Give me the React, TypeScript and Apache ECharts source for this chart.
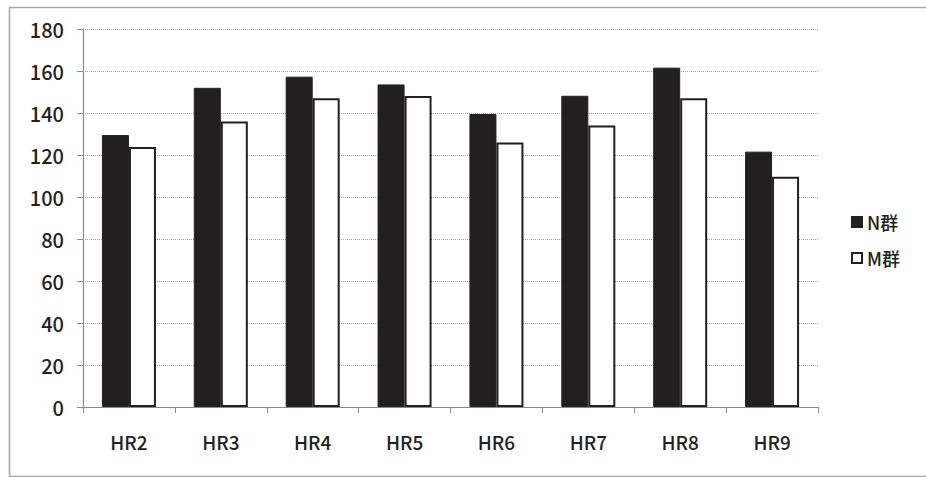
import React, { useEffect, useRef } from "react";
import * as echarts from "echarts";

const categories = ["HR2", "HR3", "HR4", "HR5", "HR6", "HR7", "HR8", "HR9"];
const nValues = [129.5, 152, 157.3, 153.6, 139.5, 148.2, 161.6, 121.6];
const mValues = [123.8, 135.9, 147, 148.1, 126, 134, 147, 109.7];
const seriesNames = ["N群", "M群"];

const FONT = "Noto Sans CJK JP";
const INK = "#231f20";

export default function App() {
  const ref = useRef<HTMLDivElement>(null);

  useEffect(() => {
    if (!ref.current) return;
    const chart = echarts.init(ref.current, null, { renderer: "svg" });
    chart.setOption({
      animation: false,
      backgroundColor: "#ffffff",
      textStyle: { fontFamily: FONT, color: INK },
      graphic: [
        {
          type: "rect",
          left: 7,
          top: 5,
          shape: { width: 940, height: 469 },
          style: { fill: "none", stroke: "#a8a8a8", lineWidth: 1.5 },
          silent: true,
          z: -1,
        },
      ],
      grid: { left: 83, right: 108, top: 29, bottom: 70, containLabel: false },
      legend: {
        orient: "vertical",
        left: 846,
        top: 208,
        itemWidth: 10,
        itemHeight: 10,
        itemGap: 18,
        icon: "rect",
        textStyle: { fontFamily: FONT, fontSize: 18, fontWeight: 500, color: INK },
        data: seriesNames,
      },
      xAxis: {
        type: "category",
        data: categories,
        axisLine: { lineStyle: { color: "#8a8a8a", width: 1.2 } },
        axisTick: { show: true, length: 6, lineStyle: { color: "#8a8a8a" } },
        axisLabel: { fontSize: 19, fontWeight: 500, color: INK, margin: 25, fontFamily: FONT },
        splitLine: { show: false },
      },
      yAxis: {
        type: "value",
        min: 0,
        max: 180,
        interval: 20,
        axisLine: { show: true, lineStyle: { color: "#8a8a8a", width: 1.2 } },
        axisTick: { show: true, length: 6, lineStyle: { color: "#8a8a8a" } },
        axisLabel: { fontSize: 20, fontWeight: 500, color: INK, margin: 19, fontFamily: FONT },
        splitLine: { lineStyle: { color: "#a0a0a0", type: "dotted", width: 1 } },
      },
      series: [
        {
          name: seriesNames[0],
          type: "bar",
          data: nValues,
          barWidth: 27,
          barGap: "0%",
          itemStyle: { color: INK, borderColor: INK, borderWidth: 1 },
        },
        {
          name: seriesNames[1],
          type: "bar",
          data: mValues,
          barWidth: 27,
          barGap: "0%",
          itemStyle: { color: "#ffffff", borderColor: INK, borderWidth: 2 },
        },
      ],
    });
    return () => chart.dispose();
  }, []);

  return <div ref={ref} style={{ width: 926, height: 477, position: "absolute", left: 0, top: 0 }} />;
}
